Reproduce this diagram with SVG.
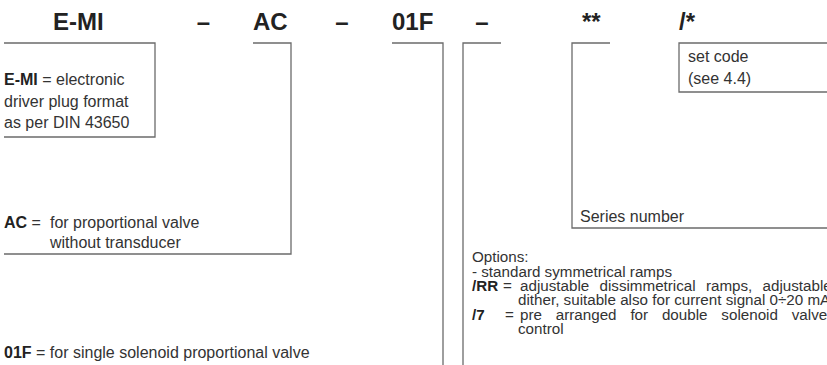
<svg xmlns="http://www.w3.org/2000/svg" width="827" height="365" viewBox="0 0 827 365">
<style>
.t{font-family:"Liberation Sans",Arial,sans-serif;font-weight:bold;font-size:24px;fill:#222}
.b{font-family:"Liberation Sans",Arial,sans-serif;font-size:16px;fill:#333}
.o{font-family:"Liberation Sans",Arial,sans-serif;font-size:15.2px;fill:#333}
.k{font-weight:bold;fill:#222}
.ln{fill:none;stroke:#6b6b6b;stroke-width:1.3}
</style>
<rect width="827" height="365" fill="#fff"/>
<g id="titles">
<text class="t" x="53" y="30">E-MI</text>
<text class="t" x="203.5" y="30" text-anchor="middle">–</text>
<text class="t" x="253" y="30">AC</text>
<text class="t" x="342" y="30" text-anchor="middle">–</text>
<text class="t" x="392" y="30">01F</text>
<text class="t" x="482" y="30" text-anchor="middle">–</text>
<text class="t" x="582" y="30">**</text>
<text class="t" x="679" y="30">/*</text>
</g>
<g id="connectors">
<path class="ln" d="M4,43 H155 V137 H4"/>
<path class="ln" d="M253,43 H291 V254 H4"/>
<path class="ln" d="M392,43 H443 V365"/>
<path class="ln" d="M501,43 H463 V365"/>
<path class="ln" d="M610,43 H572 V228 H827"/>
<path class="ln" d="M827,43 H679 V92 H827"/>
</g>
<g id="node-emi">
<text class="b" x="4" y="85"><tspan class="k">E-MI</tspan> = electronic</text>
<text class="b" x="4" y="106.5">driver plug format</text>
<text class="b" x="4" y="128">as per DIN 43650</text>
</g>
<g id="node-ac">
<text class="b" x="4" y="228"><tspan class="k">AC</tspan> =</text>
<text class="b" x="50" y="228">for proportional valve</text>
<text class="b" x="50" y="248">without transducer</text>
</g>
<g id="node-01f">
<text class="b" x="4" y="358"><tspan class="k">01F</tspan> = for single solenoid proportional valve</text>
</g>
<g id="node-series">
<text class="b" x="580" y="222">Series number</text>
</g>
<g id="node-setcode">
<text class="b" x="688" y="62">set code</text>
<text class="b" x="688" y="84">(see 4.4)</text>
</g>
<g id="node-options">
<text class="o" x="472" y="262">Options:</text>
<text class="o" x="472" y="277">- standard symmetrical ramps</text>
<text class="o" x="472" y="291"><tspan class="k">/RR</tspan></text>
<text class="o" x="503" y="291">=</text>
<text class="o" x="520" y="291" word-spacing="6">adjustable dissimmetrical ramps, adjustable</text>
<text class="o" x="518" y="305">dither, suitable also for current signal 0÷20 mA</text>
<text class="o" x="472" y="320"><tspan class="k">/7</tspan></text>
<text class="o" x="505" y="320">=</text>
<text class="o" x="520" y="320" word-spacing="9.6">pre arranged for double solenoid valve</text>
<text class="o" x="518" y="334">control</text>
</g>
</svg>
